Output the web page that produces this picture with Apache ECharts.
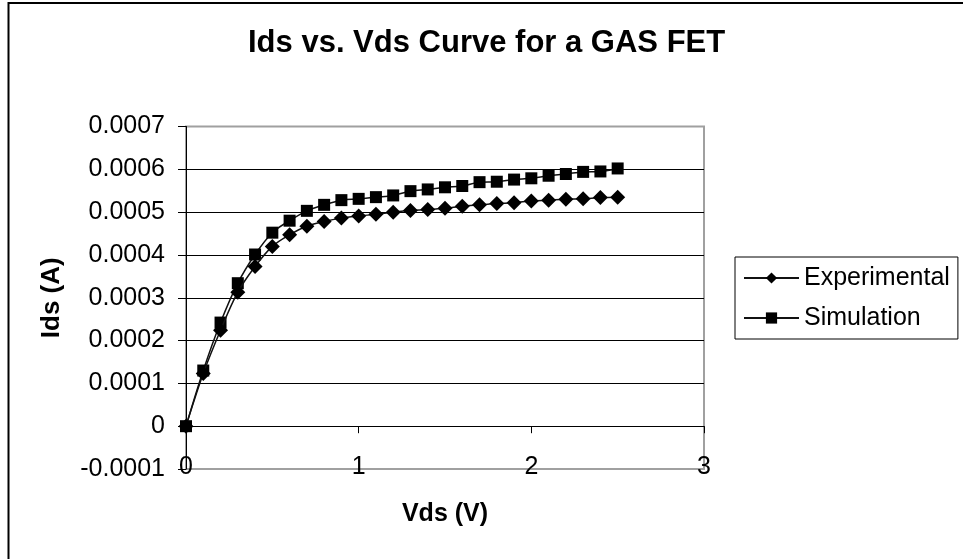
<!DOCTYPE html>
<html>
<head>
<meta charset="utf-8">
<script src="https://cdn.jsdelivr.net/npm/echarts@6/dist/echarts.min.js"></script>
<style>
html,body{margin:0;padding:0;background:#fff;}
#c{width:963px;height:559px;}
</style>
</head>
<body>
<div id="c"></div>
<script>
const vds = [0, 0.1, 0.2, 0.3, 0.4, 0.5, 0.6, 0.7, 0.8, 0.9, 1.0, 1.1, 1.2, 1.3, 1.4, 1.5, 1.6, 1.7, 1.8, 1.9, 2.0, 2.1, 2.2, 2.3, 2.4, 2.5];
const experimental = [0, 0.000123, 0.000224, 0.000313, 0.000373, 0.000420, 0.000447, 0.000467, 0.000478, 0.000486, 0.000491, 0.000495, 0.000500, 0.000504, 0.000506, 0.000509, 0.000514, 0.000517, 0.000520, 0.000522, 0.000526, 0.000528, 0.000530, 0.000531, 0.000534, 0.000535];
const simulation = [0, 0.000130, 0.000242, 0.000334, 0.000401, 0.000452, 0.000480, 0.000503, 0.000517, 0.000528, 0.000531, 0.000535, 0.000539, 0.000549, 0.000553, 0.000558, 0.000561, 0.000570, 0.000571, 0.000576, 0.000579, 0.000585, 0.000589, 0.000594, 0.000595, 0.000602];
const seriesNames = ['Experimental', 'Simulation'];
const titleText = 'Ids vs. Vds Curve for a GAS FET';
const xName = 'Vds (V)';
const yName = 'Ids (A)';

const FONT = '"Liberation Sans", Arial, sans-serif';
const chart = echarts.init(document.getElementById('c'), null, {renderer: 'canvas'});

function pairs(xs, ys) { return xs.map((x, i) => [x, ys[i]]); }

const option = {
  backgroundColor: '#fff',
  animation: false,
  textStyle: {fontFamily: FONT, color: '#000'},
  title: {
    text: titleText,
    left: 248, top: 28, padding: 0,
    textStyle: {fontFamily: FONT, fontSize: 31, fontWeight: 'bold', color: '#000'}
  },
  graphic: [{
    type: 'rect', silent: true, z: 100,
    shape: {x: 8.5, y: 3, width: 1000, height: 700},
    style: {fill: 'none', stroke: '#000', lineWidth: 2}
  }],
  legend: {
    orient: 'vertical', left: 735, top: 257,
    data: seriesNames,
    padding: [5, 8, 5, 8], itemGap: 8, itemWidth: 55, itemHeight: 14,
    borderColor: '#000', borderWidth: 1,
    textStyle: {fontFamily: FONT, fontSize: 25, lineHeight: 32, color: '#000'}
  },
  grid: {
    left: 186, right: 259, top: 126.5, bottom: 90,
    show: true, borderColor: '#a0a0a0', borderWidth: 2, backgroundColor: '#fff'
  },
  xAxis: [{
    type: 'value', min: 0, max: 3, interval: 1, position: 'bottom',
    axisLine: {show: true, onZero: true, lineStyle: {color: '#000', width: 1}},
    axisTick: {show: true, inside: false, length: 7, lineStyle: {color: '#000'}},
    axisLabel: {show: false},
    splitLine: {show: false}
  }, {
    type: 'value', min: 0, max: 3, interval: 1, position: 'bottom',
    axisLine: {show: false, onZero: false},
    axisTick: {show: false},
    splitLine: {show: false},
    axisLabel: {show: true, margin: -14, fontFamily: FONT, fontSize: 25, color: '#000'},
    name: xName, nameLocation: 'middle', nameGap: 33,
    nameTextStyle: {fontFamily: FONT, fontSize: 25, fontWeight: 'bold', color: '#000'}
  }],
  yAxis: {
    type: 'value', min: -0.0001, max: 0.0007, interval: 0.0001,
    axisLine: {show: true, onZero: false, lineStyle: {color: '#000', width: 1}},
    axisTick: {show: true, inside: false, length: 8, lineStyle: {color: '#000'}},
    axisLabel: {
      margin: 21, fontFamily: FONT, fontSize: 25, color: '#000',
      formatter: v => Math.abs(v) < 1e-12 ? '0' : v.toFixed(4)
    },
    splitLine: {show: true, lineStyle: {color: ['#a0a0a0', '#000', '#000', '#000', '#000', '#000', '#000', '#000', '#a0a0a0'], width: 1}},
    name: yName, nameLocation: 'middle', nameGap: 121,
    nameTextStyle: {fontFamily: FONT, fontSize: 26, fontWeight: 'bold', color: '#000'}
  },
  series: [{
    name: seriesNames[0], type: 'line', xAxisIndex: 0,
    data: pairs(vds, experimental),
    smooth: 0.35, symbol: 'diamond', symbolSize: 15,
    lineStyle: {color: '#111', width: 1.5},
    itemStyle: {color: '#000'}, z: 3
  }, {
    name: seriesNames[1], type: 'line', xAxisIndex: 0,
    data: pairs(vds, simulation),
    smooth: 0.35, symbol: 'rect', symbolSize: 12,
    lineStyle: {color: '#111', width: 1.5},
    itemStyle: {color: '#000'}, z: 2
  }]
};
chart.setOption(option);
</script>
</body>
</html>
